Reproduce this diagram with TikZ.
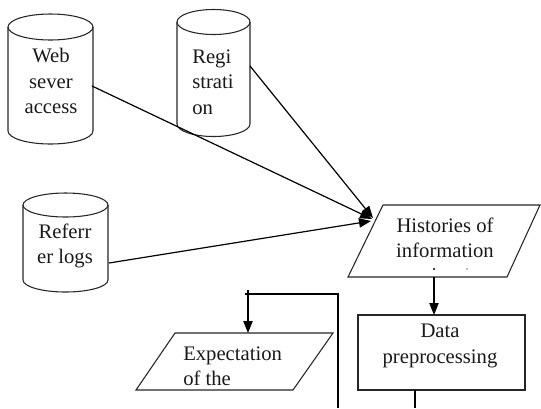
\documentclass[tikz,border=0pt]{standalone}
\usepackage{fontspec}
\setmainfont{Liberation Serif}
\usetikzlibrary{arrows.meta}

% database cylinder: left x, right x, top-centre y, bottom-centre y, half height of the caps
\newcommand\dbcylinder[5]{%
  \draw[shape line] (#1,#3) -- (#1,#4)
    arc[start angle=180,end angle=0,x radius={(#2-#1)/2},y radius=#5] -- (#2,#3);
  \draw[shape line] ({(#1+#2)/2},#3) ellipse[x radius={(#2-#1)/2},y radius=#5];
}

\begin{document}
\begin{tikzpicture}[x=0.75pt,y=-0.75pt,
  shape line/.style={draw=black!85,line width=0.8pt},
  flow/.style={line width=0.9pt,-{Triangle[length=9pt,width=7pt]}},
  plain/.style={line width=0.9pt},
  label/.style={font=\fontsize{15.5}{19}\selectfont,inner sep=0pt,text=black!90}]
\useasboundingbox (0,0) rectangle (541,408);

% data sources
\dbcylinder{8}{93}{27}{131}{13}
\dbcylinder{177}{250}{22}{124}{12.5}
\dbcylinder{23}{108}{205}{280}{12}

\node[label,align=center] (web) at (51,81) {Web\\sever\\access};
\node[label,align=left,anchor=west] (reg) at (192,82) {Regi\\strati\\on};
\node[label,align=center] (ref) at (65,246) {Referr\\er logs};

% histories input/output
\draw[shape line] (383,205) coordinate (hA) -- (540,205) -- (507,277) coordinate (hC) -- (348,277) -- cycle;
\node[label,align=center] (hist) at (445,238) {Histories of\\information};
\fill (434,269) circle[radius=0.8pt];
\fill[black!50] (467,269) circle[radius=0.6pt];
\coordinate (hin) at (373,219);
\coordinate (hout) at (434,277);

% preprocessing step
\draw[shape line] (358,315) coordinate (dTop) rectangle (525,390);
\node[label,align=center] (data) at (440,346) {Data\\preprocessing};
\coordinate (dIn) at (434,315);
\coordinate (dOut) at (415,390);
\coordinate (dEnd) at (415,408);

% expectation input/output
\draw[shape line] (175,333) -- (333,333) -- (293,390) -- (136,390) -- cycle;
\node[label,align=left,anchor=west] (expect) at (183,366) {Expectation\\of the};

% connectors
\coordinate (webOut) at (92,86);
\coordinate (regOut) at (250,66);
\coordinate (refOut) at (109,263);
\draw[flow] (regOut) -- (373,218);
\draw[flow] (webOut) -- (372,219);
\draw[flow] (refOut) -- (371,221);
\draw[flow] (hout) -- (dIn);
\draw[plain] (dOut) -- (dEnd);

\coordinate (loopL) at (245,294);
\coordinate (loopR) at (338,294);
\coordinate (loopEnd) at (338,408);
\coordinate (eTop) at (248,290);
\coordinate (eIn) at (248,333);
\draw[plain] (loopL) -- (loopR) -- (loopEnd);
\draw[flow] (eTop) -- (eIn);
\end{tikzpicture}
\end{document}
